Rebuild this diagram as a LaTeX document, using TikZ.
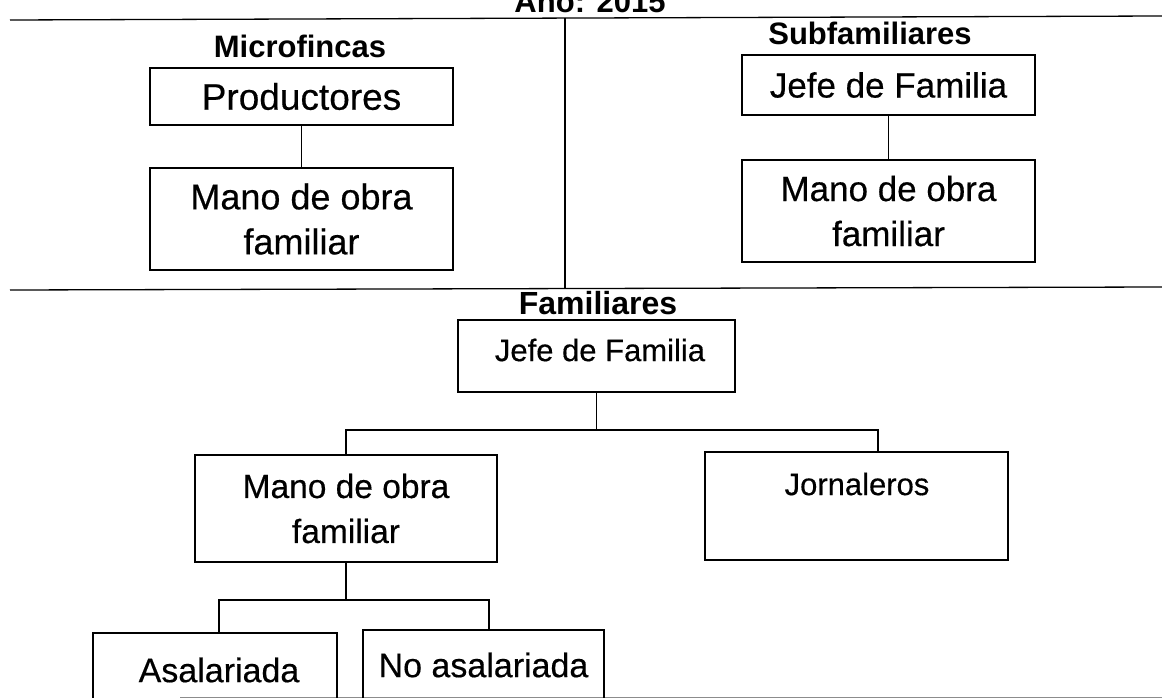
\documentclass[tikz,border=0pt]{standalone}
\usepackage{fontspec}
\setmainfont{Liberation Sans}
\newfontfamily\scanfont[FakeBold=0.4]{Liberation Sans}
\begin{document}
\begin{tikzpicture}[x=1pt,y=-1pt,
  box/.style={draw, line width=1.5pt, inner sep=0pt, align=center},
  txt/.style={inner sep=0pt, align=center},
  head/.style={font=\fontsize{31}{36}\selectfont\bfseries, inner sep=0pt},
  rule/.style={line width=1.3pt},
  conn/.style={line width=1.4pt}]
\useasboundingbox (0,0) rectangle (1162,698);
\begin{scope}
\clip (0,0) rectangle (1162,698);
% title (cut off at the top, as in the scan)
\node[head] (title) at (590,1) {Año: 2015};
% table rules
\coordinate (tl) at (10,20);
\coordinate (tr) at (1162,16);
\coordinate (ml) at (10,290);
\coordinate (mr) at (1162,287);
\coordinate (dv1) at (565,18);
\coordinate (dv2) at (565,289);
\draw[rule] (tl) -- (tr);
\draw[rule] (ml) -- (mr);
\draw[rule] (dv1) -- (dv2);
\coordinate (bl) at (180,697);
\coordinate (br) at (1162,697);
\draw[line width=0.6pt, black!45] (bl) -- (br);

% Microfincas
\node[head] (hmic) at (300,46) {Microfincas};
\node[box, minimum width=303, minimum height=57, font=\scanfont\fontsize{37}{45}\selectfont] (prod) at (301.5,96.5) {Productores};
\node[box, minimum width=303, minimum height=102, font=\scanfont\fontsize{36}{45}\selectfont] (mof1) at (301.5,219) {Mano de obra\\familiar};
\draw[conn] (prod.south) -- (mof1.north);

% Subfamiliares
\node[head] (hsub) at (870,33) {Subfamiliares};
\node[box, minimum width=293, minimum height=60, font=\scanfont\fontsize{35}{45}\selectfont] (jef1) at (888.5,85) {Jefe de Familia};
\node[box, minimum width=293, minimum height=102, font=\scanfont\fontsize{35}{45}\selectfont] (mof2) at (888.5,211) {Mano de obra\\familiar};
\draw[conn] (jef1.south) -- (mof2.north);

% Familiares
\node[head, font=\fontsize{32}{36}\selectfont\bfseries] (hfam) at (598,303) {Familiares};
\node[box, minimum width=277, minimum height=72] (jef2) at (596.5,356) {};
\node[txt, font=\scanfont\fontsize{31}{36}\selectfont] (tjef2) at (600,350) {Jefe de Familia};
\node[box, minimum width=302, minimum height=107, font=\scanfont\fontsize{33.5}{45}\selectfont] (mof3) at (346,508.5) {Mano de obra\\familiar};
\node[box, minimum width=303, minimum height=108] (jorn) at (856.5,506) {};
\node[txt, font=\scanfont\fontsize{31}{36}\selectfont] (tjorn) at (857,484) {Jornaleros};
\coordinate (jr) at (878,430);
\draw[conn] (jef2.south) -- (jef2.south |- jr);
\draw[conn] (mof3.north) |- (jr) -- (jr |- jorn.north);

\node[box, minimum width=244, minimum height=90] (asal) at (215,678) {};
\node[txt, font=\scanfont\fontsize{34}{36}\selectfont] (tasal) at (219,670) {Asalariada};
\node[box, minimum width=241, minimum height=90] (noas) at (483.5,675) {};
\node[txt, font=\scanfont\fontsize{34}{36}\selectfont] (tnoas) at (483.5,665) {No asalariada};
\coordinate (al) at (219,600);
\coordinate (nr) at (489,600);
\draw[conn] (mof3.south) -- (mof3.south |- al);
\draw[conn] (al |- asal.north) -- (al) -- (nr) -- (nr |- noas.north);
\end{scope}
\end{tikzpicture}
\end{document}
